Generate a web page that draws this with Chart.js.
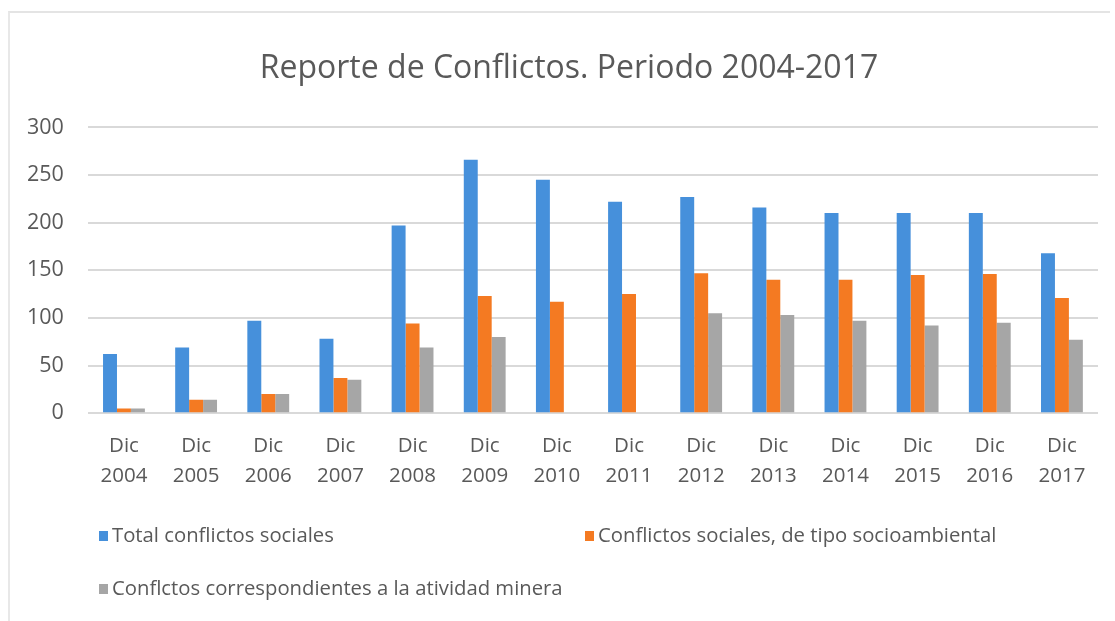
<!DOCTYPE html>
<html lang="es">
<head>
<meta charset="utf-8">
<title>Reporte de Conflictos. Periodo 2004-2017</title>
<script src="https://cdn.jsdelivr.net/npm/chart.js@4.4.1/dist/chart.umd.min.js"></script>
<style>
  html, body { margin: 0; padding: 0; background: #ffffff; }
  #wrap { position: relative; width: 1115px; height: 621px; }
  #frame {
    position: absolute; left: 8px; top: 11px; width: 1100px; height: 620px;
    border-top: 2px solid #e4e4e4; border-left: 2px solid #e8e8e8;
    pointer-events: none;
  }
  canvas { position: absolute; left: 0; top: 0; }
</style>
</head>
<body>
<div id="wrap">
  <canvas id="chart" width="1115" height="621"></canvas>
  <div id="frame"></div>
</div>
<script>
// Categories (two-line tick labels: month / year)
const months = ['Dic', 'Dic', 'Dic', 'Dic', 'Dic', 'Dic', 'Dic', 'Dic', 'Dic', 'Dic', 'Dic', 'Dic', 'Dic', 'Dic'];
const years = ['2004', '2005', '2006', '2007', '2008', '2009', '2010', '2011', '2012', '2013', '2014', '2015', '2016', '2017'];

// Series
const totalConflictos = [62, 69, 97, 78, 197, 266, 245, 222, 227, 216, 210, 210, 210, 168];
const socioambientales = [5, 14, 20, 37, 94, 123, 117, 125, 147, 140, 140, 145, 146, 121];
const actividadMinera = [5, 14, 20, 35, 69, 80, null, null, 105, 103, 97, 92, 95, 77];

// Series names
const seriesNames = [
  'Total conflictos sociales',
  'Conflictos sociales, de tipo socioambiental',
  'Conflctos correspondientes a la atividad minera'
];

// Y axis ticks
const yTicks = [0, 50, 100, 150, 200, 250, 300];

const labels = months.map((m, i) => [m, years[i]]);
const textColor = '#595959';
const fontFamily = "'Open Sans', 'Liberation Sans', sans-serif";

// Center the title over the plot area rather than the whole canvas
const titleOverPlot = {
  id: 'titleOverPlot',
  afterLayout(chart) {
    const t = chart.titleBlock;
    if (t) {
      t.left = 40;
      t.width = t.right - t.left;
    }
  }
};

// Legend laid out in two columns below the axis
const columnLegend = {
  id: 'columnLegend',
  afterDraw(chart) {
    const ctx = chart.ctx;
    const slots = [
      { x: 99, y: 536 },
      { x: 585, y: 536 },
      { x: 99, y: 589 }
    ];
    ctx.save();
    ctx.font = '20.3px ' + fontFamily;
    ctx.textBaseline = 'middle';
    chart.data.datasets.forEach((ds, i) => {
      const s = slots[i];
      ctx.fillStyle = ds.backgroundColor;
      ctx.fillRect(s.x, s.y - 5, 9, 10);
      ctx.fillStyle = textColor;
      ctx.fillText(ds.label, s.x + 13, s.y);
    });
    ctx.restore();
  }
};

new Chart(document.getElementById('chart'), {
  type: 'bar',
  data: {
    labels: labels,
    datasets: [
      { label: seriesNames[0], data: totalConflictos, backgroundColor: '#4690db' },
      { label: seriesNames[1], data: socioambientales, backgroundColor: '#f47a22' },
      { label: seriesNames[2], data: actividadMinera, backgroundColor: '#a6a6a6' }
    ]
  },
  options: {
    responsive: false,
    animation: false,
    devicePixelRatio: 1,
    layout: { padding: { left: 3, right: 17, top: 0, bottom: 112 } },
    datasets: {
      bar: { categoryPercentage: 0.58, barPercentage: 1.0 }
    },
    plugins: {
      legend: { display: false },
      tooltip: { enabled: false },
      title: {
        display: true,
        text: 'Reporte de Conflictos. Periodo 2004-2017',
        color: textColor,
        font: { family: fontFamily, size: 32, weight: 'normal' },
        padding: { top: 50, bottom: 39 }
      }
    },
    scales: {
      x: {
        grid: { display: false, drawTicks: false },
        border: { display: false },
        ticks: {
          color: textColor,
          font: { family: fontFamily, size: 20.5, lineHeight: 1.46 },
          padding: 18,
          maxRotation: 0,
          autoSkip: false
        }
      },
      y: {
        min: 0,
        max: 300,
        afterBuildTicks(axis) { axis.ticks = yTicks.map(v => ({ value: v })); },
        grid: { color: '#d9d9d9', lineWidth: 2, drawTicks: false },
        border: { display: false },
        ticks: {
          color: textColor,
          font: { family: fontFamily, size: 21.5 },
          padding: 24
        }
      }
    }
  },
  plugins: [titleOverPlot, columnLegend]
});
</script>
</body>
</html>
